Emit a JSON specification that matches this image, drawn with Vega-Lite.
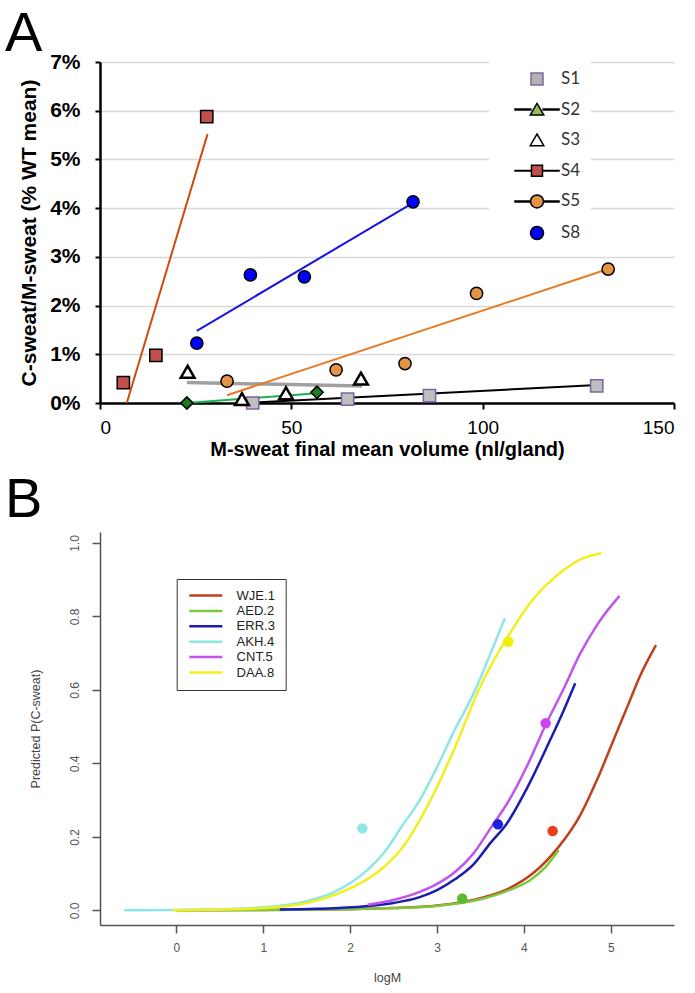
{
  "$schema": "https://vega.github.io/schema/vega-lite/v6.json",
  "background": "white",
  "padding": {"left": 5, "top": 6, "right": 5, "bottom": 2},
  "config": {"view": {"stroke": null}, "font": "Liberation Sans"},
  "columns": 1,
  "align": "none",
  "spacing": 13,
  "datasets": {
    "pointsA": [
      {"series": "S1", "x": 39.9, "y": 0.0},
      {"series": "S1", "x": 64.7, "y": 0.0008},
      {"series": "S1", "x": 86.1, "y": 0.0015},
      {"series": "S1", "x": 129.8, "y": 0.0035},
      {"series": "S2", "x": 22.7, "y": 0.0},
      {"series": "S2", "x": 56.7, "y": 0.0022},
      {"series": "S3", "x": 22.9, "y": 0.0064},
      {"series": "S3", "x": 37.1, "y": 0.0008},
      {"series": "S3", "x": 48.6, "y": 0.002},
      {"series": "S3", "x": 68.2, "y": 0.005},
      {"series": "S4", "x": 6.1, "y": 0.0042},
      {"series": "S4", "x": 14.6, "y": 0.0098},
      {"series": "S4", "x": 27.9, "y": 0.0588},
      {"series": "S5", "x": 33.2, "y": 0.0045},
      {"series": "S5", "x": 61.7, "y": 0.0068},
      {"series": "S5", "x": 79.7, "y": 0.0081},
      {"series": "S5", "x": 98.4, "y": 0.0225},
      {"series": "S5", "x": 132.8, "y": 0.0275},
      {"series": "S8", "x": 25.3, "y": 0.0123},
      {"series": "S8", "x": 39.3, "y": 0.0263},
      {"series": "S8", "x": 53.4, "y": 0.0259},
      {"series": "S8", "x": 81.8, "y": 0.0413}
    ],
    "linesA": [
      {"series": "S1", "x": 38, "y": 0.0},
      {"series": "S1", "x": 130, "y": 0.0037},
      {"series": "S2", "x": 22.7, "y": 0.0},
      {"series": "S2", "x": 56.7, "y": 0.002},
      {"series": "S3", "x": 22.7, "y": 0.0042},
      {"series": "S3", "x": 68.5, "y": 0.0035},
      {"series": "S4", "x": 7.0, "y": 0.0},
      {"series": "S4", "x": 28.1, "y": 0.0552},
      {"series": "S5", "x": 33.2, "y": 0.0016},
      {"series": "S5", "x": 132.8, "y": 0.0275},
      {"series": "S8", "x": 25.3, "y": 0.0148},
      {"series": "S8", "x": 81.8, "y": 0.0411}
    ],
    "curvesB": [
      {"series": "WJE.1", "logM": 0.0, "p": 0.0003},
      {"series": "WJE.1", "logM": 1.0, "p": 0.001},
      {"series": "WJE.1", "logM": 2.0, "p": 0.003},
      {"series": "WJE.1", "logM": 2.5, "p": 0.006},
      {"series": "WJE.1", "logM": 3.0, "p": 0.013},
      {"series": "WJE.1", "logM": 3.5, "p": 0.033},
      {"series": "WJE.1", "logM": 3.83, "p": 0.06},
      {"series": "WJE.1", "logM": 4.1, "p": 0.1},
      {"series": "WJE.1", "logM": 4.39, "p": 0.17},
      {"series": "WJE.1", "logM": 4.65, "p": 0.26},
      {"series": "WJE.1", "logM": 4.85, "p": 0.36},
      {"series": "WJE.1", "logM": 5.03, "p": 0.463},
      {"series": "WJE.1", "logM": 5.2, "p": 0.56},
      {"series": "WJE.1", "logM": 5.34, "p": 0.64},
      {"series": "WJE.1", "logM": 5.52, "p": 0.722},
      {"series": "AED.2", "logM": 0.0, "p": 0.0003},
      {"series": "AED.2", "logM": 1.0, "p": 0.001},
      {"series": "AED.2", "logM": 2.0, "p": 0.003},
      {"series": "AED.2", "logM": 2.5, "p": 0.006},
      {"series": "AED.2", "logM": 3.0, "p": 0.012},
      {"series": "AED.2", "logM": 3.5, "p": 0.03},
      {"series": "AED.2", "logM": 3.83, "p": 0.055},
      {"series": "AED.2", "logM": 4.07, "p": 0.082},
      {"series": "AED.2", "logM": 4.25, "p": 0.118},
      {"series": "AED.2", "logM": 4.4, "p": 0.164},
      {"series": "ERR.3", "logM": 1.19, "p": 0.002},
      {"series": "ERR.3", "logM": 1.6, "p": 0.004},
      {"series": "ERR.3", "logM": 2.18, "p": 0.011},
      {"series": "ERR.3", "logM": 2.5, "p": 0.02},
      {"series": "ERR.3", "logM": 2.8, "p": 0.036},
      {"series": "ERR.3", "logM": 3.0, "p": 0.055},
      {"series": "ERR.3", "logM": 3.21, "p": 0.085},
      {"series": "ERR.3", "logM": 3.42, "p": 0.125},
      {"series": "ERR.3", "logM": 3.62, "p": 0.185},
      {"series": "ERR.3", "logM": 3.8, "p": 0.235},
      {"series": "ERR.3", "logM": 4.03, "p": 0.33},
      {"series": "ERR.3", "logM": 4.3, "p": 0.463},
      {"series": "ERR.3", "logM": 4.45, "p": 0.54},
      {"series": "ERR.3", "logM": 4.59, "p": 0.618},
      {"series": "AKH.4", "logM": -0.6, "p": 0.0},
      {"series": "AKH.4", "logM": 0.0, "p": 0.001},
      {"series": "AKH.4", "logM": 0.5, "p": 0.003},
      {"series": "AKH.4", "logM": 1.0, "p": 0.008},
      {"series": "AKH.4", "logM": 1.5, "p": 0.025},
      {"series": "AKH.4", "logM": 1.8, "p": 0.048},
      {"series": "AKH.4", "logM": 2.02, "p": 0.077},
      {"series": "AKH.4", "logM": 2.2, "p": 0.11},
      {"series": "AKH.4", "logM": 2.4, "p": 0.16},
      {"series": "AKH.4", "logM": 2.59, "p": 0.227},
      {"series": "AKH.4", "logM": 2.8, "p": 0.3},
      {"series": "AKH.4", "logM": 3.0, "p": 0.39},
      {"series": "AKH.4", "logM": 3.2, "p": 0.49},
      {"series": "AKH.4", "logM": 3.42, "p": 0.59},
      {"series": "AKH.4", "logM": 3.6, "p": 0.69},
      {"series": "AKH.4", "logM": 3.78, "p": 0.795},
      {"series": "CNT.5", "logM": 2.2, "p": 0.015},
      {"series": "CNT.5", "logM": 2.5, "p": 0.028},
      {"series": "CNT.5", "logM": 2.8, "p": 0.05},
      {"series": "CNT.5", "logM": 3.0, "p": 0.072},
      {"series": "CNT.5", "logM": 3.21, "p": 0.105},
      {"series": "CNT.5", "logM": 3.42, "p": 0.155},
      {"series": "CNT.5", "logM": 3.62, "p": 0.225},
      {"series": "CNT.5", "logM": 3.83, "p": 0.3},
      {"series": "CNT.5", "logM": 4.03, "p": 0.39},
      {"series": "CNT.5", "logM": 4.24, "p": 0.5},
      {"series": "CNT.5", "logM": 4.45, "p": 0.6},
      {"series": "CNT.5", "logM": 4.65, "p": 0.7},
      {"series": "CNT.5", "logM": 4.85, "p": 0.78},
      {"series": "CNT.5", "logM": 5.1, "p": 0.856},
      {"series": "DAA.8", "logM": -0.04, "p": 0.0},
      {"series": "DAA.8", "logM": 0.5, "p": 0.002},
      {"series": "DAA.8", "logM": 1.0, "p": 0.006},
      {"series": "DAA.8", "logM": 1.5, "p": 0.02},
      {"series": "DAA.8", "logM": 2.0, "p": 0.06},
      {"series": "DAA.8", "logM": 2.2, "p": 0.085},
      {"series": "DAA.8", "logM": 2.4, "p": 0.12},
      {"series": "DAA.8", "logM": 2.6, "p": 0.17},
      {"series": "DAA.8", "logM": 2.8, "p": 0.245},
      {"series": "DAA.8", "logM": 3.0, "p": 0.336},
      {"series": "DAA.8", "logM": 3.2, "p": 0.44},
      {"series": "DAA.8", "logM": 3.5, "p": 0.61},
      {"series": "DAA.8", "logM": 3.7, "p": 0.7},
      {"series": "DAA.8", "logM": 3.88, "p": 0.77},
      {"series": "DAA.8", "logM": 4.05, "p": 0.83},
      {"series": "DAA.8", "logM": 4.26, "p": 0.886},
      {"series": "DAA.8", "logM": 4.45, "p": 0.925},
      {"series": "DAA.8", "logM": 4.64, "p": 0.954},
      {"series": "DAA.8", "logM": 4.89, "p": 0.972}
    ],
    "dotsB": [
      {"series": "WJE.1", "logM": 4.33, "p": 0.216},
      {"series": "AED.2", "logM": 3.29, "p": 0.032},
      {"series": "ERR.3", "logM": 3.7, "p": 0.234},
      {"series": "AKH.4", "logM": 2.14, "p": 0.223},
      {"series": "CNT.5", "logM": 4.25, "p": 0.509},
      {"series": "DAA.8", "logM": 3.82, "p": 0.731}
    ]
  },
  "concat": [
    {
      "width": 574,
      "height": 341,
      "title": {"text": "A", "fontSize": 56, "fontWeight": "normal", "font": "Liberation Sans", "color": "black", "anchor": "start", "frame": "group", "dx": -95, "offset": -56, "baseline": "alphabetic"},
      "encoding": {
        "x": {"field": "x", "type": "quantitative", "scale": {"domain": [0, 150], "nice": false, "zero": false},
          "axis": {"values": [0, 50, 100, 150], "grid": false, "domainColor": "black", "domainWidth": 2.5, "tickColor": "black", "tickWidth": 2, "tickSize": 6,
            "labelFontSize": 19, "labelColor": "black", "labelPadding": 9, "labelFont": "Liberation Sans",
            "title": "M-sweat final mean volume (nl/gland)", "titleFontSize": 20, "titleFontWeight": "bold", "titleColor": "black", "titlePadding": 2, "titleFont": "Liberation Sans"}},
        "y": {"field": "y", "type": "quantitative", "scale": {"domain": [0, 0.07], "nice": false},
          "axis": {"values": [0, 0.01, 0.02, 0.03, 0.04, 0.05, 0.06, 0.07], "format": ".0%", "grid": true, "gridColor": "#D9D9D9", "gridWidth": 1.5,
            "domainColor": "black", "domainWidth": 2.5, "tickColor": "black", "tickWidth": 2, "tickSize": 5,
            "labelFontSize": 21, "labelFontWeight": "bold", "labelColor": "black", "labelPadding": 15, "labelFont": "Liberation Sans",
            "title": "C-sweat/M-sweat (% WT mean)", "titleFontSize": 21, "titleFontWeight": "bold", "titleColor": "black", "titlePadding": 10, "titleFont": "Liberation Sans"}}
      },
      "layer": [
        {
          "data": {"name": "linesA"},
          "mark": {"type": "line", "strokeCap": "butt"},
          "encoding": {
            "color": {"field": "series", "type": "nominal",
              "scale": {"domain": ["S1", "S2", "S3", "S4", "S5", "S8"], "range": ["#000000", "#1DB050", "#A0A0A0", "#D04A10", "#E87A20", "#1414E6"]},
              "legend": null},
            "strokeWidth": {"condition": {"test": "datum.series === 'S3'", "value": 3.5}, "value": 2},
            "detail": {"field": "series", "type": "nominal"}
          }
        },
        {
          "data": {"name": "pointsA"},
          "mark": {"type": "point", "filled": true, "opacity": 1},
          "encoding": {
            "shape": {"field": "series", "type": "nominal",
              "scale": {"domain": ["S1", "S2", "S3", "S4", "S5", "S8"], "range": ["square", "diamond", "triangle-up", "square", "circle", "circle"]},
              "legend": null},
            "fill": {"field": "series", "type": "nominal",
              "scale": {"domain": ["S1", "S2", "S3", "S4", "S5", "S8"], "range": ["#BFBFBF", "#1E7B1E", "#FFFFFF", "#C0504D", "#E39446", "#0000FF"]},
              "legend": null},
            "stroke": {"field": "series", "type": "nominal",
              "scale": {"domain": ["S1", "S2", "S3", "S4", "S5", "S8"], "range": ["#7E64A0", "#000000", "#000000", "#000000", "#000000", "#000000"]},
              "legend": null},
            "strokeWidth": {"condition": {"test": "datum.series === 'S3'", "value": 2.5}, "value": 1.5},
            "size": {"condition": {"test": "datum.series === 'S3'", "value": 190}, "value": 150}
          }
        },
        {
          "data": {"name": "pointsA"},
          "mark": {"type": "point", "filled": true, "opacity": 0},
          "encoding": {
            "shape": {"field": "series", "type": "nominal",
              "scale": {"domain": ["S1", "S2", "S3", "S4", "S5", "S8"], "range": [
                "M-0.6,-0.6H0.6V0.6H-0.6Z",
                "M-2.2,-0.05H-0.62V0.05H-2.2Z M0.62,-0.05H2.2V0.05H0.62Z M0,-0.62L0.68,0.55H-0.68Z",
                "M0,-0.62L0.68,0.55H-0.68Z",
                "M-2.2,-0.03H-0.55V0.03H-2.2Z M0.55,-0.03H2.2V0.03H0.55Z M-0.55,-0.55H0.55V0.55H-0.55Z",
                "M-2.2,-0.05H-0.66V0.05H-2.2Z M0.66,-0.05H2.2V0.05H0.66Z M0.65,0L0.601,0.249L0.46,0.46L0.249,0.601L0,0.65L-0.249,0.601L-0.46,0.46L-0.601,0.249L-0.65,0L-0.601,-0.249L-0.46,-0.46L-0.249,-0.601L0,-0.65L0.249,-0.601L0.46,-0.46L0.601,-0.249Z",
                "M0.65,0L0.601,0.249L0.46,0.46L0.249,0.601L0,0.65L-0.249,0.601L-0.46,0.46L-0.601,0.249L-0.65,0L-0.601,-0.249L-0.46,-0.46L-0.249,-0.601L0,-0.65L0.249,-0.601L0.46,-0.46L0.601,-0.249Z"
              ]},
              "legend": {"title": null, "orient": "none", "legendX": 389, "legendY": -4, "fillColor": "white", "padding": 10, "symbolSize": 400, "symbolStrokeWidth": 1.5, "symbolOpacity": 1, "symbolOffset": 27, "labelOffset": 13, "rowPadding": 10.6, "labelFont": "Lato", "labelFontSize": 17, "labelColor": "#333333"}},
            "fill": {"field": "series", "type": "nominal",
              "scale": {"domain": ["S1", "S2", "S3", "S4", "S5", "S8"], "range": ["#B3B3B3", "#9BBB59", "#FFFFFF", "#C0504D", "#E39446", "#0000FF"]},
              "legend": {"title": null, "orient": "none", "legendX": 389, "legendY": -4, "fillColor": "white", "padding": 10, "symbolSize": 400, "symbolStrokeWidth": 1.5, "symbolOpacity": 1, "symbolOffset": 27, "labelOffset": 13, "rowPadding": 10.6, "labelFont": "Lato", "labelFontSize": 17, "labelColor": "#333333"}},
            "stroke": {"field": "series", "type": "nominal",
              "scale": {"domain": ["S1", "S2", "S3", "S4", "S5", "S8"], "range": ["#8064A2", "#000000", "#000000", "#000000", "#000000", "#000000"]},
              "legend": {"title": null, "orient": "none", "legendX": 389, "legendY": -4, "fillColor": "white", "padding": 10, "symbolSize": 400, "symbolStrokeWidth": 1.5, "symbolOpacity": 1, "symbolOffset": 27, "labelOffset": 13, "rowPadding": 10.6, "labelFont": "Lato", "labelFontSize": 17, "labelColor": "#333333"}}
          }
        }
      ],
      "resolve": {"scale": {"shape": "independent", "fill": "independent", "stroke": "independent", "color": "independent"}}
    },
    {
      "width": 574,
      "height": 393,
      "title": {"text": "B", "fontSize": 56, "fontWeight": "normal", "font": "Liberation Sans", "color": "black", "anchor": "start", "frame": "group", "dx": -95, "offset": -41, "baseline": "alphabetic"},
      "encoding": {
        "x": {"field": "logM", "type": "quantitative", "scale": {"domain": [-0.879, 5.727], "nice": false, "zero": false},
          "axis": {"values": [0, 1, 2, 3, 4, 5], "grid": false, "domainColor": "#555555", "domainWidth": 1.5, "tickColor": "#555555", "tickWidth": 1.5, "tickSize": 8,
            "labelFontSize": 12, "labelColor": "#555555", "labelPadding": 9, "title": "logM", "titleFontSize": 12.5, "titleFontWeight": "normal", "titleColor": "#444444", "titlePadding": 18}},
        "y": {"field": "p", "type": "quantitative", "scale": {"domain": [-0.04, 1.03], "nice": false, "zero": false},
          "axis": {"values": [0, 0.2, 0.4, 0.6, 0.8, 1.0], "format": ".1f", "grid": false, "domainColor": "#555555", "domainWidth": 1.5, "tickColor": "#555555", "tickWidth": 1.5, "tickSize": 8,
            "labelAngle": 270, "labelFontSize": 12, "labelColor": "#555555", "labelPadding": 11, "title": "Predicted P(C-sweat)", "titleFontSize": 12.5, "titleFontWeight": "normal", "titleColor": "#444444", "titlePadding": 26}}
      },
      "layer": [
        {
          "data": {"name": "curvesB"},
          "mark": {"type": "line", "strokeWidth": 2.5, "interpolate": "monotone"},
          "encoding": {
            "color": {"field": "series", "type": "nominal",
              "scale": {"domain": ["WJE.1", "AED.2", "ERR.3", "AKH.4", "CNT.5", "DAA.8"], "range": ["#C0401E", "#7CC83A", "#1C1CB4", "#8EE6E6", "#C055EC", "#F0F020"]},
              "legend": {"title": null, "orient": "none", "legendX": 76.7, "legendY": 47, "fillColor": "white", "strokeColor": "#333333", "padding": 10, "symbolType": "M-3.3,0H3.3", "symbolSize": 100, "symbolStrokeWidth": 2.5, "symbolOffset": 12.6, "labelOffset": 24.3, "rowPadding": 1.4, "labelFontSize": 13, "labelColor": "#222222"}}
          }
        },
        {
          "data": {"name": "dotsB"},
          "mark": {"type": "point", "filled": true, "size": 110, "opacity": 1, "shape": "circle"},
          "encoding": {
            "color": {"field": "series", "type": "nominal",
              "scale": {"domain": ["WJE.1", "AED.2", "ERR.3", "AKH.4", "CNT.5", "DAA.8"], "range": ["#E8401C", "#5CB82E", "#2020E0", "#8EE6E6", "#D040F0", "#F0F000"]},
              "legend": null}
          }
        }
      ],
      "resolve": {"scale": {"color": "independent"}}
    }
  ]
}
